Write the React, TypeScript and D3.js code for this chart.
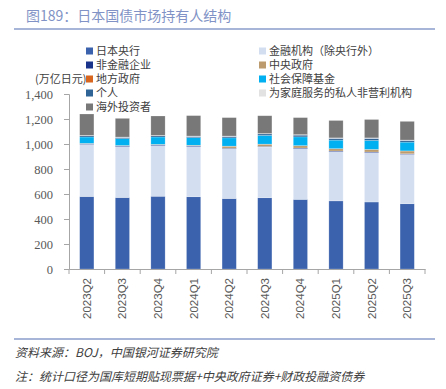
import React, { useEffect, useRef } from "react";
import * as d3 from "d3";

const quarters = ["2023Q2", "2023Q3", "2023Q4", "2024Q1", "2024Q2", "2024Q3", "2024Q4", "2025Q1", "2025Q2", "2025Q3"];

const seriesNames = [
  "日本央行",
  "金融机构（除央行外）",
  "非金融企业",
  "中央政府",
  "地方政府",
  "社会保障基金",
  "个人",
  "为家庭服务的私人非营利机构",
  "海外投资者",
];

const seriesColors = ["#3A62AD", "#D3DFF1", "#1A348C", "#BC9C6E", "#D8661E", "#00B0F0", "#2F6496", "#E2E2E2", "#787878"];

// 万亿日元
const boj = [580, 572, 582, 578, 564, 570, 557, 545, 536, 522];
const financial = [417, 407, 405, 401, 398, 406, 406, 394, 395, 395];
const nonFinancial = [5, 5, 5, 5, 5, 5, 5, 5, 5, 5];
const centralGov = [2, 3, 4, 5, 15, 17, 18, 18, 20, 22];
const localGov = [1, 1, 1, 1, 1, 1, 1, 1, 1, 1];
const socialSecurity = [51, 55, 59, 61, 66, 70, 70, 68, 72, 70];
const individuals = [10, 10, 10, 10, 12, 12, 14, 14, 16, 14];
const nonProfit = [3, 3, 3, 3, 3, 3, 4, 4, 4, 3];
const overseas = [171, 149, 155, 163, 147, 142, 136, 139, 147, 149];

const yTicks = [0, 200, 400, 600, 800, 1000, 1200, 1400];

const CJK = "'Noto Sans CJK SC', 'Noto Sans', sans-serif";

export default function App() {
  const svgRef = useRef<SVGSVGElement>(null);

  useEffect(() => {
    if (!svgRef.current) return;
    const svg = d3.select(svgRef.current);
    svg.selectAll("*").remove();

    const allSeries = [boj, financial, nonFinancial, centralGov, localGov, socialSecurity, individuals, nonProfit, overseas];
    const rows = quarters.map((q, i) => {
      const row: any = { q };
      allSeries.forEach((s, k) => (row[k] = s[i]));
      return row;
    });
    const stack = d3.stack<any>().keys(allSeries.map((_, k) => String(k)));
    const layers = stack(rows);

    const left = 69;
    const right = 425;
    const bottom = 269;
    const top = 94;

    const x = d3.scaleBand().domain(quarters).range([left, right]).paddingInner(0.6).paddingOuter(0.3);
    const xb = d3.scaleBand().domain(quarters).range([left, right]);
    const y = d3.scaleLinear().domain([0, 1400]).range([bottom, top]);

    // title
    svg
      .append("text")
      .attr("x", 26)
      .attr("y", 21)
      .attr("font-family", CJK)
      .attr("font-size", 14)
      .attr("fill", "#8193C6")
      .text("图189：日本国债市场持有人结构");

    svg.append("line").attr("x1", 14).attr("x2", 435).attr("y1", 29).attr("y2", 29).attr("stroke", "#A7B5D9").attr("stroke-width", 2);

    // bars
    layers.forEach((layer, k) => {
      svg
        .append("g")
        .selectAll("rect")
        .data(layer)
        .join("rect")
        .attr("x", (d: any) => x(d.data.q)!)
        .attr("width", x.bandwidth())
        .attr("y", (d) => y(d[1]))
        .attr("height", (d) => Math.max(0, y(d[0]) - y(d[1])))
        .attr("fill", seriesColors[k])
        .attr("stroke", "#ffffff")
        .attr("stroke-opacity", 0.35)
        .attr("stroke-width", 0.6);
    });

    // y axis
    const yAxis = d3.axisLeft(y).tickValues(yTicks).tickFormat(d3.format(",")).tickSize(5).tickPadding(11);
    const gy = svg.append("g").attr("transform", `translate(${left},0)`).call(yAxis);
    gy.select(".domain").attr("stroke", "#A6A6A6");
    gy.selectAll(".tick line").attr("stroke", "#A6A6A6");
    gy.selectAll(".tick text")
      .attr("font-family", "'Liberation Serif', serif")
      .attr("font-size", 12.5)
      .attr("fill", "#595959");

    // x axis
    const xAxis = d3.axisBottom(xb).tickSize(0).tickFormat(() => "");
    const gx = svg.append("g").attr("transform", `translate(0,${bottom})`).call(xAxis);
    gx.select(".domain").attr("stroke", "#A6A6A6");
    const bounds = quarters.map((q) => xb(q)!).concat([right]);
    gx.selectAll("line.sep")
      .data(bounds)
      .join("line")
      .attr("class", "sep")
      .attr("x1", (d) => d)
      .attr("x2", (d) => d)
      .attr("y1", 0)
      .attr("y2", 5)
      .attr("stroke", "#A6A6A6");

    svg
      .append("g")
      .selectAll("text")
      .data(quarters)
      .join("text")
      .attr("transform", (d) => `translate(${xb(d)! + xb.bandwidth() / 2 + 4},278) rotate(-90)`)
      .attr("text-anchor", "end")
      .attr("font-family", "'Liberation Sans', Arial, sans-serif")
      .attr("font-size", 11.5)
      .attr("fill", "#595959")
      .text((d) => d);

    // unit
    svg
      .append("text")
      .attr("x", 35)
      .attr("y", 83)
      .attr("font-family", CJK)
      .attr("font-size", 11)
      .attr("fill", "#404040")
      .text("(万亿日元)");

    // legend
    const legendRows = [51, 65, 79, 93, 107];
    seriesNames.forEach((name, k) => {
      const col = k % 2;
      const row = Math.floor(k / 2);
      const lx = col === 0 ? 86 : 259;
      const ly = legendRows[row];
      svg.append("rect").attr("x", lx).attr("y", ly - 3.5).attr("width", 7).attr("height", 7).attr("fill", seriesColors[k]);
      svg
        .append("text")
        .attr("x", lx + 10)
        .attr("y", ly + 4)
        .attr("font-family", CJK)
        .attr("font-size", 11)
        .attr("fill", "#404040")
        .text(name);
    });

    // footer
    svg.append("line").attr("x1", 14).attr("x2", 435).attr("y1", 339).attr("y2", 339).attr("stroke", "#A7B5D9").attr("stroke-width", 2);
    svg
      .append("text")
      .attr("x", 15)
      .attr("y", 357)
      .attr("font-family", CJK)
      .attr("font-size", 12)
      .attr("font-style", "italic")
      .attr("fill", "#404040")
      .text("资料来源：BOJ，中国银河证券研究院");
    svg
      .append("text")
      .attr("x", 15)
      .attr("y", 381)
      .attr("font-family", CJK)
      .attr("font-size", 12)
      .attr("font-style", "italic")
      .attr("fill", "#404040")
      .text("注：统计口径为国库短期贴现票据+中央政府证券+财政投融资债券");
  }, []);

  return (
    <svg
      ref={svgRef}
      width={446}
      height={389}
      style={{ position: "absolute", left: 0, top: 0, background: "#fff" }}
    />
  );
}
